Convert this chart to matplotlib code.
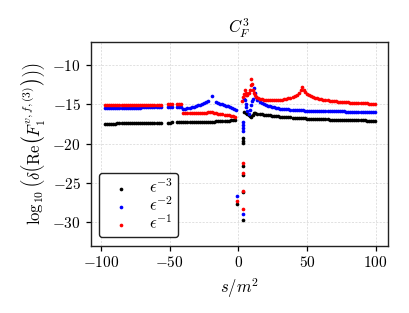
import matplotlib
matplotlib.use("Agg")
import matplotlib.pyplot as plt

plt.rcParams['font.family'] = 'serif'
plt.rcParams['font.serif'] = ['cmr10', 'DejaVu Serif']
plt.rcParams['mathtext.fontset'] = 'cm'
plt.rcParams['axes.formatter.use_mathtext'] = True

# ---------------- data ----------------
x_left = [-97, -95.5, -94, -92.5, -91, -89.5, -88, -86.5, -85, -83.5, -82, -80.5,
          -79, -77.5, -76, -74.5, -73, -71.5, -70, -68.5, -67, -65.5, -64, -62.5,
          -61, -59.5, -58, -56.5, -51, -49.5, -48, -44.5, -43, -41.5]
x_mid = [-40, -38.5, -37, -35.5, -34, -32.5, -31, -29.5, -28, -26.5, -25, -23.5,
         -22, -20.5, -19, -17.5, -16, -14.5, -13, -11.5, -10, -8.5, -7, -5.5, -4, -2.5]
x_tail = [14, 15.5, 17, 18.5, 20, 21.5, 23, 24.5, 26, 27.5, 29, 30.5, 32, 33.5, 35,
          36.5, 38, 39.5, 41, 42.5, 44, 45.5, 47, 48.5, 50, 51.5, 53, 54.5, 56, 57.5,
          59, 60.5, 62, 63.5, 65, 66.5, 68, 69.5, 71, 72.5, 74, 75.5, 77, 78.5, 80,
          81.5, 83, 84.5, 86, 87.5, 89, 90.5, 92, 93.5, 95, 96.5, 98, 99.5]

# eps^-3 (black)
black_left_y = [-17.46, -17.46, -17.45, -17.45, -17.44, -17.44, -17.43, -17.43, -17.42,
                -17.42, -17.41, -17.41, -17.40, -17.40, -17.39, -17.39, -17.38, -17.38,
                -17.37, -17.37, -17.36, -17.36, -17.35, -17.35, -17.34, -17.34, -17.33,
                -17.33, -17.31, -17.31, -17.30, -17.29, -17.28, -17.28]
black_mid_y = [-17.27, -17.27, -17.26, -17.26, -17.25, -17.25, -17.24, -17.24, -17.23,
               -17.23, -17.22, -17.21, -17.21, -17.20, -17.19, -17.18, -17.17, -17.16,
               -17.15, -17.13, -17.11, -17.09, -17.06, -17.03, -16.99, -16.93]
black_near_x = [4.2, 5.5, 6.5, 7.5, 8.5, 9.5, 10.5, 11.5, 12.5]
black_near_y = [-15.97, -16.10, -16.20, -16.32, -16.48, -16.60, -16.30, -16.15, -16.15]
black_tail_y = [-16.20, -16.23, -16.27, -16.30, -16.34, -16.37, -16.40, -16.43, -16.46,
                -16.49, -16.52, -16.55, -16.57, -16.60, -16.62, -16.64, -16.66, -16.68,
                -16.70, -16.72, -16.74, -16.76, -16.77, -16.79, -16.80, -16.82, -16.83,
                -16.84, -16.86, -16.87, -16.88, -16.89, -16.90, -16.91, -16.92, -16.93,
                -16.94, -16.95, -16.96, -16.96, -16.97, -16.98, -16.99, -16.99, -17.00,
                -17.01, -17.01, -17.02, -17.02, -17.03, -17.03, -17.04, -17.04, -17.05,
                -17.05, -17.06, -17.06, -17.07]
black_dip_x = [3.6, 3.6, 3.6, 3.6, 3.6, 3.6, 3.6, -1.2]
black_dip_y = [-19.3, -19.6, -19.9, -22.9, -24.0, -26.2, -29.7, -27.7]

# eps^-2 (blue)
blue_left_y = [-15.48, -15.48, -15.47, -15.47, -15.46, -15.46, -15.45, -15.45, -15.44,
               -15.44, -15.43, -15.43, -15.42, -15.42, -15.41, -15.41, -15.40, -15.40,
               -15.39, -15.39, -15.38, -15.38, -15.37, -15.37, -15.36, -15.36, -15.35,
               -15.35, -15.34, -15.33, -15.33, -15.32, -15.31, -15.30]
blue_mid_x = [-40, -38.5, -37, -35.5, -34, -32.5, -31, -29.5, -28, -26.5, -25, -23.5,
              -22.2, -19.4, -16.5, -15, -13.5, -12, -10.5, -9, -7.5, -6, -4.5, -3, -1.8]
blue_mid_y = [-15.62, -15.55, -15.48, -15.42, -15.36, -15.28, -15.20, -15.12, -15.05,
              -14.95, -14.85, -14.72, -14.55, -13.94, -14.75, -14.85, -14.93, -15.00,
              -15.08, -15.15, -15.22, -15.30, -15.40, -15.52, -15.68]
blue_near_x = [4.2, 4.7, 5.3, 5.8, 6.6, 7.6, 8.5, 9.5, 10.2, 10.7, 11.5, 12.2, 13.1]
blue_near_y = [-14.3, -14.5, -14.9, -15.3, -15.8, -16.2, -15.7, -15.1, -14.6, -14.3,
               -12.9, -13.6, -14.07]
blue_tail_y = [-14.45, -14.70, -14.88, -15.00, -15.08, -15.16, -15.24, -15.31, -15.37,
               -15.43, -15.48, -15.52, -15.56, -15.59, -15.62, -15.64, -15.66, -15.68,
               -15.70, -15.72, -15.74, -15.75, -15.77, -15.78, -15.79, -15.80, -15.81,
               -15.82, -15.83, -15.84, -15.84, -15.85, -15.86, -15.86, -15.87, -15.87,
               -15.88, -15.88, -15.89, -15.89, -15.90, -15.90, -15.90, -15.91, -15.91,
               -15.91, -15.92, -15.92, -15.92, -15.92, -15.93, -15.93, -15.93, -15.93,
               -15.94, -15.94, -15.94, -15.94]
blue_dip_x = [3.5, 3.6, 3.7, 3.8, -1.2, 3.6]
blue_dip_y = [-17.2, -17.6, -18.0, -18.4, -26.7, -29.0]

# eps^-1 (red)
red_left_y = [-15.10, -15.10, -15.09, -15.09, -15.09, -15.08, -15.08, -15.08, -15.07,
              -15.07, -15.07, -15.06, -15.06, -15.06, -15.05, -15.05, -15.05, -15.04,
              -15.04, -15.04, -15.03, -15.03, -15.03, -15.02, -15.02, -15.02, -15.01,
              -15.01, -15.00, -15.00, -15.00, -14.99, -14.98, -14.98]
red_mid_y = [-16.05, -16.06, -16.06, -16.07, -16.07, -16.08, -16.08, -16.08, -16.09,
             -16.09, -16.08, -16.05, -16.00, -15.95, -16.02, -16.08, -16.12, -16.17,
             -16.22, -16.27, -16.31, -16.36, -16.41, -16.47, -16.53, -16.62]
red_near_x = [2.8, 3.4, 4.0, 4.7, 5.3, 5.8, 6.6, 7.6, 8.3, 9.0, 9.5, 10.0, 10.7, 11.3,
              11.9, 13.0]
red_near_y = [-14.6, -14.1, -13.7, -13.2, -13.5, -13.85, -13.75, -13.6, -13.2, -12.5,
              -11.8, -12.4, -13.2, -13.6, -13.85, -14.05]
red_tail_x = [14.3, 15.5, 17, 18.5, 20, 21.5, 23, 24.5, 26, 27.5, 29, 30.5, 32, 33.5,
              35, 36.5, 38, 39.5, 41, 42.5, 44, 45.5, 46.6, 47.5, 48.5, 50, 51.5, 53,
              54.5, 56, 57.5, 59, 60.5, 62, 63.5, 65, 66.5, 68, 69.5, 71, 72.5, 74,
              75.5, 77, 78.5, 80, 81.5, 83, 84.5, 86, 87.5, 89, 90.5, 92, 93.5, 95,
              96.5, 98, 99.5]
red_tail_y = [-14.20, -14.28, -14.34, -14.38, -14.42, -14.44, -14.46, -14.47, -14.47,
              -14.46, -14.45, -14.42, -14.39, -14.35, -14.30, -14.24, -14.16, -14.06,
              -13.94, -13.78, -13.55, -13.20, -12.75, -13.10, -13.40, -13.62, -13.80,
              -13.93, -14.04, -14.13, -14.21, -14.28, -14.34, -14.39, -14.44, -14.48,
              -14.52, -14.55, -14.58, -14.61, -14.64, -14.66, -14.68, -14.70, -14.72,
              -14.74, -14.76, -14.77, -14.79, -14.80, -14.82, -14.83, -14.85, -14.86,
              -14.87, -14.89, -14.90, -14.92, -14.93]
red_dip_x = [3.6, 3.6, 3.6, -1.2, 3.6]
red_dip_y = [-22.5, -23.7, -26.0, -27.3, -28.3]

series = [
    (r'$\epsilon^{-3}$', 'black',
     x_left + x_mid + black_dip_x + black_near_x + x_tail,
     black_left_y + black_mid_y + black_dip_y + black_near_y + black_tail_y),
    (r'$\epsilon^{-2}$', 'blue',
     x_left + blue_mid_x + blue_dip_x + blue_near_x + x_tail,
     blue_left_y + blue_mid_y + blue_dip_y + blue_near_y + blue_tail_y),
    (r'$\epsilon^{-1}$', 'red',
     x_left + x_mid + red_dip_x + red_near_x + red_tail_x,
     red_left_y + red_mid_y + red_dip_y + red_near_y + red_tail_y),
]

# ---------------- plot ----------------
fig = plt.figure(figsize=(4.10, 3.13), dpi=100)
ax = fig.add_axes([0.221, 0.215, 0.7246, 0.652])

for label, color, xs, ys in series:
    ax.scatter(xs, ys, s=7, c=color, linewidths=0, label=label, zorder=3)

ax.set_xlim(-107.5, 108.8)
ax.set_ylim(-33.0, -7.0)
ax.set_xticks([-100, -50, 0, 50, 100])
ax.set_yticks([-10, -15, -20, -25, -30])
ax.tick_params(labelsize=11, width=0.9)
ax.grid(True, color='#d5d5d5', linestyle=(0, (3, 2)), linewidth=0.5, zorder=0)
for sp in ax.spines.values():
    sp.set_linewidth(1.0)
    sp.set_color('#222222')

ax.set_title(r'$C_F^3$', fontsize=12)
ax.set_xlabel(r'$s/m^2$', fontsize=12)
ax.set_ylabel(r'$\log_{10}\left(\delta\left(\mathrm{Re}\left(F_1^{v,f,(3)}\right)\right)\right)$',
              fontsize=12)

leg = ax.legend(loc='lower left', fontsize=12, fancybox=True, framealpha=1,
                edgecolor='#222222', markerscale=1.0, labelspacing=0.0,
                borderpad=0.3, handletextpad=0.7)
leg.get_frame().set_linewidth(1.0)

fig.savefig('out.png', dpi=100)
